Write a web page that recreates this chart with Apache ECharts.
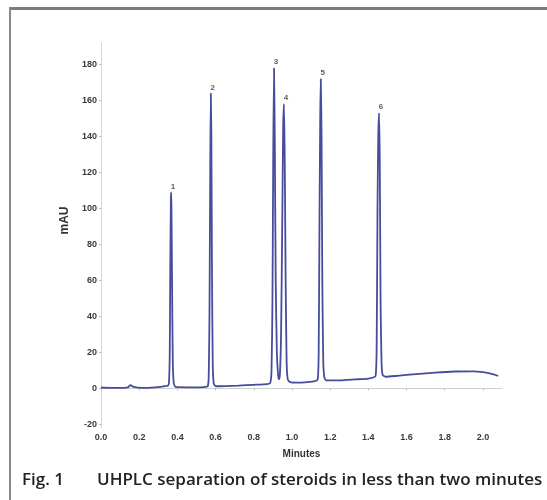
<!DOCTYPE html>
<html>
<head>
<meta charset="utf-8">
<script src="https://cdn.jsdelivr.net/npm/echarts@6/dist/echarts.min.js"></script>
<style>
html,body{margin:0;padding:0;background:#fff;width:547px;height:500px;overflow:hidden;}
#frame{position:absolute;left:9px;top:7px;width:700px;height:700px;border-top:3px solid #7c7c7c;border-left:2px solid #8a8a8a;}
#chart{position:absolute;left:0;top:0;width:547px;height:500px;}
</style>
</head>
<body>
<div id="frame"></div>
<div id="chart"></div>
<script>
// Chromatogram trace: retention time (min) and absorbance (mAU)
const times = [
  0.000,0.050,0.100,0.140,0.155,0.170,0.220,0.280,0.330,0.350,
  0.356,0.360,0.363,0.366,0.367,0.369,0.372,0.376,0.381,0.390,
  0.450,0.520,0.555,
  0.560,0.564,0.568,0.572,0.575,0.578,0.581,0.585,0.590,0.600,
  0.650,0.720,0.800,0.870,
  0.886,0.893,0.898,0.902,0.906,0.910,0.915,0.921,0.927,0.932,
  0.937,0.943,0.949,0.954,0.958,0.962,0.967,0.972,0.978,0.990,
  1.030,1.080,1.120,
  1.135,1.140,1.144,1.148,1.151,1.155,1.159,1.164,1.170,1.180,
  1.250,1.330,1.400,
  1.438,1.444,1.448,1.452,1.456,1.460,1.464,1.469,1.475,1.490,
  1.550,1.650,1.750,1.850,1.950,2.000,2.050,2.080
];
const absorbance = [
  0.5,0.3,0.3,0.6,1.8,0.8,0.3,0.6,1.2,1.5,
  3,20,70,105,109,100,60,15,3,0.8,
  0.6,0.6,1.0,
  1.5,6,40,120,164,140,70,15,3,1.2,
  1.3,1.6,2.0,2.4,
  3,10,50,130,178,140,60,20,8,5,
  8,30,90,145,158,130,60,15,5,3.5,
  3.2,3.5,4.0,
  5,20,90,150,172,140,60,15,6,4.5,
  4.5,5.0,5.5,
  7,30,100,140,153,125,50,15,7.5,6.5,
  7.0,8.0,8.8,9.4,9.5,9.0,8.0,7.0
];
// Peak numbering
const peakTimes = [0.367,0.575,0.906,0.958,1.151,1.456];
const peakHeights = [109,164,178,158,172,153];
const peakLabels = ['1','2','3','4','5','6'];
// Axis ticks
const yTicks = [-20,0,20,40,60,80,100,120,140,160,180];
const xTicks = [0,0.2,0.4,0.6,0.8,1.0,1.2,1.4,1.6,1.8,2.0];

const trace = times.map((t,i)=>[t,absorbance[i]]);
const peaks = peakTimes.map((t,i)=>({value:[t,peakHeights[i]],name:peakLabels[i]}));

const chart = echarts.init(document.getElementById('chart'));
const tickFont = {fontFamily:'Liberation Sans',fontWeight:'bold',fontSize:9,color:'#3a3a3a'};
chart.setOption({
  animation:false,
  backgroundColor:'transparent',
  grid:{left:101,right:45,top:43,bottom:72},
  xAxis:{
    type:'value',min:0,max:2.1,
    name:'Minutes',nameLocation:'middle',nameGap:21,
    nameTextStyle:{fontFamily:'Liberation Sans',fontWeight:'bold',fontSize:10,color:'#333'},
    axisLine:{show:true,lineStyle:{color:'#cfcfcf',width:1}},
    axisTick:{show:true,length:2,customValues:xTicks,lineStyle:{color:'#bbb'}},
    axisLabel:{customValues:xTicks,margin:5,formatter:v=>v.toFixed(1),...tickFont},
    splitLine:{show:false}
  },
  yAxis:{
    type:'value',min:-22,max:192,
    name:'mAU',nameLocation:'middle',nameGap:23,
    nameTextStyle:{fontFamily:'Liberation Sans',fontWeight:'bold',fontSize:12,color:'#333',padding:[0,0,0,30]},
    axisLine:{show:true,lineStyle:{color:'#d5d5d5',width:1}},
    axisTick:{show:true,length:2,customValues:yTicks,lineStyle:{color:'#bbb'}},
    axisLabel:{customValues:yTicks,margin:4,...tickFont},
    splitLine:{show:false}
  },
  series:[
    {type:'line',data:trace,showSymbol:false,symbol:'none',smooth:0.2,
     lineStyle:{color:'#474c9c',width:1.8},z:2},
    {type:'scatter',data:peaks,symbolSize:0,
     label:{show:true,position:'top',distance:2,offset:[2,0],formatter:p=>p.name,
       fontFamily:'Liberation Sans',fontWeight:'bold',fontSize:8,color:'#333'},z:3}
  ],
  graphic:[
    {type:'text',left:22,top:472,style:{text:'Fig. 1',fontFamily:'Open Sans',fontWeight:600,fontSize:17,fill:'#222'}},
    {type:'text',left:97,top:472,style:{text:'UHPLC separation of steroids in less than two minutes',fontFamily:'Open Sans',fontWeight:600,fontSize:17,fill:'#222'}}
  ]
});
</script>
</body>
</html>
